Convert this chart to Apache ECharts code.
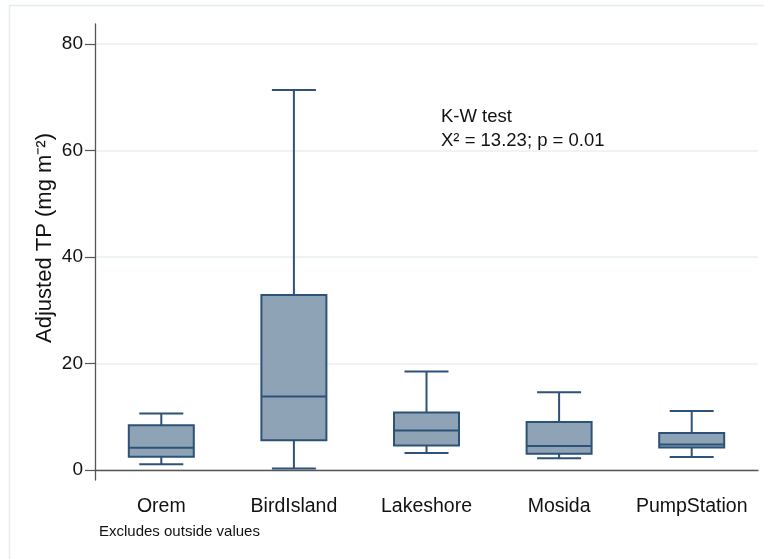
<!DOCTYPE html>
<html>
<head>
<meta charset="utf-8">
<script src="https://cdn.jsdelivr.net/npm/echarts@6/dist/echarts.min.js"></script>
<style>
html,body{margin:0;padding:0;background:#fff;}
#c{width:764px;height:559px;}
</style>
</head>
<body>
<div id="c"></div>
<script>
var categories = ['Orem', 'BirdIsland', 'Lakeshore', 'Mosida', 'PumpStation'];
var lowerWhisker = [1.1, 0.3, 3.2, 2.2, 2.45];
var q1 = [2.5, 5.6, 4.6, 3.05, 4.25];
var median = [4.2, 13.8, 7.4, 4.5, 4.8];
var q3 = [8.4, 32.9, 10.8, 9.0, 6.95];
var upperWhisker = [10.6, 71.4, 18.5, 14.6, 11.1];
var yTicks = [0, 20, 40, 60, 80];

var FONT = 'Liberation Sans, Arial, Helvetica, sans-serif';
var LINE = '#2d5277';
var FILL = '#8fa3b6';

var data = categories.map(function (c, i) {
  return [i, lowerWhisker[i], q1[i], median[i], q3[i], upperWhisker[i]];
});

var chart = echarts.init(document.getElementById('c'));
chart.setOption({
  backgroundColor: '#fff',
  animation: false,
  grid: { left: 95, right: 6, top: 24, bottom: 79, containLabel: false },
  xAxis: {
    type: 'category',
    data: categories,
    boundaryGap: true,
    axisLine: { lineStyle: { color: '#555', width: 1.3 } },
    axisTick: { show: false },
    axisLabel: { interval: 0, color: '#111', fontSize: 19.5, fontFamily: FONT, margin: 17 },
    splitLine: { show: false }
  },
  yAxis: {
    type: 'value',
    min: -1.88,
    max: 83.8,
    axisLine: { show: true, lineStyle: { color: '#555', width: 1.3 } },
    axisTick: { show: true, length: 10, customValues: yTicks, lineStyle: { color: '#555', width: 1.2 } },
    axisLabel: { customValues: yTicks, color: '#111', fontSize: 19, fontFamily: FONT, margin: 12 },
    splitLine: { show: true, customValues: yTicks, lineStyle: { color: '#e8f0f2', width: 1.5 } }
  },
  graphic: [
    { type: 'polyline', shape: { points: [[9.5, 559], [9.5, 5.5], [764, 5.5]] },
      style: { stroke: '#e2ecf0', lineWidth: 1.5, fill: null }, silent: true },
    { type: 'text', x: 45, y: 238, rotation: Math.PI / 2,
      style: { text: 'Adjusted TP (mg m\u207B\u00B2)', fontSize: 22, fontFamily: FONT, fill: '#111', align: 'center', verticalAlign: 'middle' } },
    { type: 'text', x: 441, y: 116.5, style: { text: 'K-W test', fontSize: 18.5, fontFamily: FONT, fill: '#111', verticalAlign: 'middle' } },
    { type: 'text', x: 441, y: 141, style: { text: '\u03A7\u00B2 = 13.23; p = 0.01', fontSize: 18.5, fontFamily: FONT, fill: '#111', verticalAlign: 'middle' } },
    { type: 'text', x: 99, y: 532, style: { text: 'Excludes outside values', fontSize: 15, fontFamily: FONT, fill: '#111', verticalAlign: 'middle' } }
  ],
  series: [{
    type: 'custom',
    data: data,
    encode: { x: 0, y: [1, 2, 3, 4, 5] },
    renderItem: function (params, api) {
      var x = api.value(0);
      var pLo = api.coord([x, api.value(1)]);
      var pQ1 = api.coord([x, api.value(2)]);
      var pMed = api.coord([x, api.value(3)]);
      var pQ3 = api.coord([x, api.value(4)]);
      var pHi = api.coord([x, api.value(5)]);
      var cx = pLo[0];
      var bw = 65, cw = 44;
      var ls = { stroke: LINE, lineWidth: 2, fill: null };
      return {
        type: 'group',
        children: [
          { type: 'line', shape: { x1: cx, y1: pQ3[1], x2: cx, y2: pHi[1] }, style: ls },
          { type: 'line', shape: { x1: cx, y1: pQ1[1], x2: cx, y2: pLo[1] }, style: ls },
          { type: 'line', shape: { x1: cx - cw / 2, y1: pHi[1], x2: cx + cw / 2, y2: pHi[1] }, style: ls },
          { type: 'line', shape: { x1: cx - cw / 2, y1: pLo[1], x2: cx + cw / 2, y2: pLo[1] }, style: ls },
          { type: 'rect', shape: { x: cx - bw / 2, y: pQ3[1], width: bw, height: pQ1[1] - pQ3[1] },
            style: { fill: FILL, stroke: LINE, lineWidth: 2 } },
          { type: 'line', shape: { x1: cx - bw / 2, y1: pMed[1], x2: cx + bw / 2, y2: pMed[1] }, style: ls }
        ]
      };
    }
  }]
});
</script>
</body>
</html>
